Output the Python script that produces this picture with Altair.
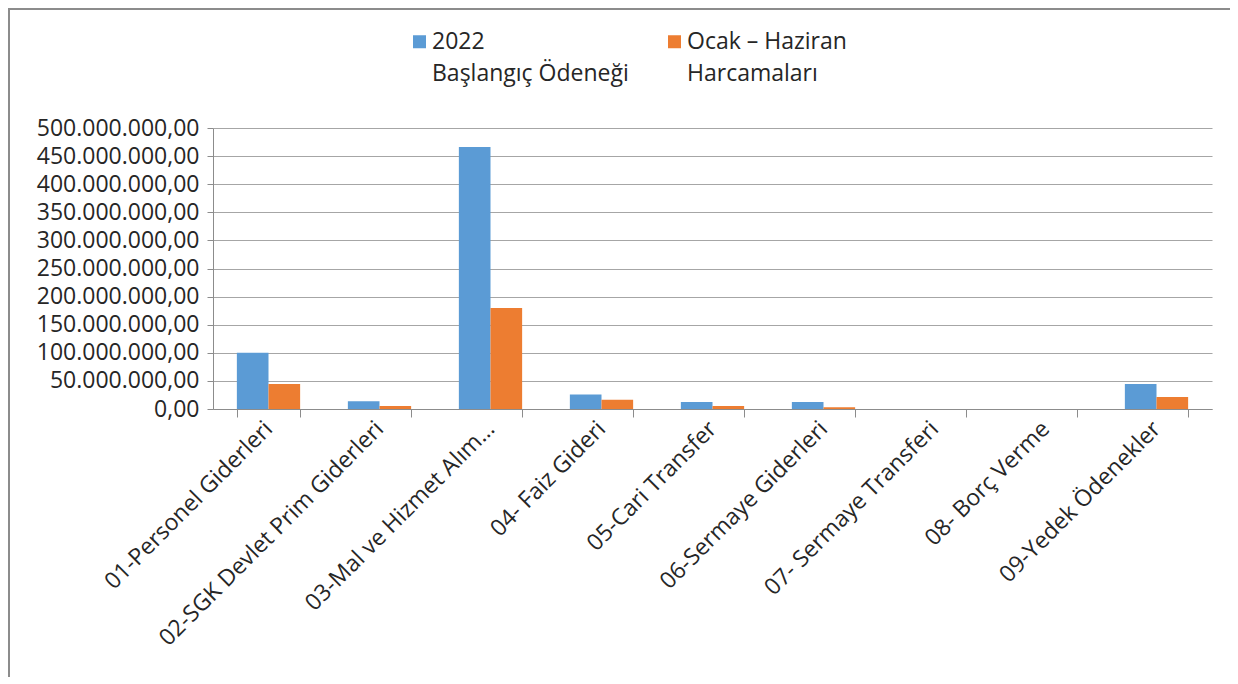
import altair as alt
import pandas as pd

categories = [
    "01-Personel Giderleri",
    "02-SGK Devlet Prim Giderleri",
    "03-Mal ve Hizmet Alım…",
    "04- Faiz Gideri",
    "05-Cari Transfer",
    "06-Sermaye Giderleri",
    "07- Sermaye Transferi",
    "08- Borç Verme",
    "09-Yedek Ödenekler",
]
series_names = ["2022\nBaşlangıç Ödeneği", "Ocak – Haziran\nHarcamaları"]
baslangic = [100_000_000, 14_000_000, 466_000_000, 26_000_000, 12_500_000, 12_300_000, 0, 0, 44_500_000]
harcama = [44_500_000, 5_300_000, 179_500_000, 16_500_000, 5_300_000, 3_000_000, 0, 0, 21_400_000]
y_ticks = list(range(0, 500_000_001, 50_000_000))

rows = []
for i, c in enumerate(categories):
    rows.append({"kategori": c, "seri": series_names[0], "deger": baslangic[i]})
    rows.append({"kategori": c, "seri": series_names[1], "deger": harcama[i]})
df = pd.DataFrame(rows)

FONT = "Open Sans"
FS = 23
TXT = "#262626"
W, H = 999, 281
PAD_L, PAD_T, PAD_R, PAD_B = 205, 120, 18, 268

label_expr = (
    "replace(replace(replace(format(datum.value, ',.2f'), '.', '#'), "
    "regexp(',', 'g'), '.'), '#', ',')"
)

bars = alt.Chart(df).mark_bar(strokeWidth=0).encode(
    x=alt.X(
        "kategori:N",
        sort=categories,
        scale=alt.Scale(paddingInner=0.43, paddingOuter=0.215),
        axis=alt.Axis(
            title=None,
            labelAngle=-45,
            labelAlign="right",
            labelBaseline="middle",
            labelFontSize=FS,
            labelFont=FONT,
            labelColor=TXT,
            labelLineHeight=24,
            labelPadding=8,
            labelLimit=400,
            tickBand="extent",
            tickSize=8,
            tickColor="#8c8c8c",
            domainColor="#8c8c8c",
            grid=False,
        ),
    ),
    xOffset=alt.XOffset("seri:N", sort=series_names),
    y=alt.Y(
        "deger:Q",
        scale=alt.Scale(domain=[0, 500_000_000], nice=False),
        axis=alt.Axis(
            title=None,
            values=y_ticks,
            labelExpr=label_expr,
            labelFontSize=FS,
            labelFont=FONT,
            labelColor=TXT,
            labelLineHeight=24,
            labelPadding=8,
            tickSize=6,
            tickColor="#8c8c8c",
            domainColor="#8c8c8c",
            gridColor="#a6a6a6",
            gridWidth=1.2,
        ),
    ),
    color=alt.Color(
        "seri:N",
        sort=series_names,
        scale=alt.Scale(domain=series_names, range=["#5B9BD5", "#ED7D31"]),
        legend=alt.Legend(
            title=None,
            orient="none",
            legendX=195,
            legendY=-98,
            direction="horizontal",
            symbolType="square",
            symbolSize=169,
            symbolStrokeWidth=0,
            labelFontSize=FS,
            labelFont=FONT,
            labelColor=TXT,
            labelLimit=400,
            labelExpr="split(datum.label, '\\n')",
            labelBaseline="middle",
            labelOffset=1,
            columnPadding=34,
        ),
    ),
)

frame = alt.Chart(pd.DataFrame({"a": [0]})).mark_rect(
    fillOpacity=0, stroke="#8c8c8c", strokeWidth=2, clip=False
).encode(
    x=alt.value(-PAD_L + 1),
    x2=alt.value(W + PAD_R + 50),
    y=alt.value(-PAD_T + 1),
    y2=alt.value(H + PAD_B + 50),
)

chart = alt.layer(frame, bars).properties(
    width=W,
    height=H,
    autosize=alt.AutoSizeParams(type="none"),
    padding={"left": PAD_L, "top": PAD_T, "right": PAD_R, "bottom": PAD_B},
).configure(
    background="white",
    view=alt.ViewConfig(strokeWidth=0),
    style={"guide-label": {"lineHeight": 32}},
)

chart.save("out.html", embed_options={"renderer": "svg", "actions": False})
